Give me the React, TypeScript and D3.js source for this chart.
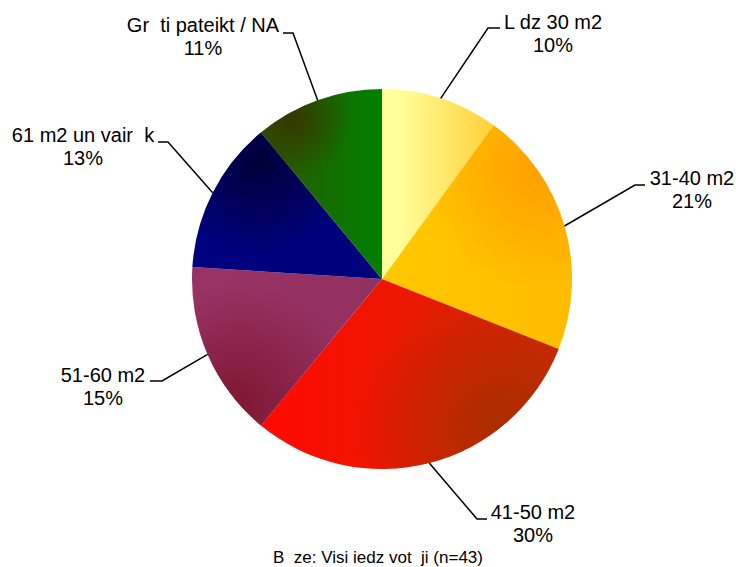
import React from "react";
import * as d3 from "d3";

const categories = ["L dz 30 m2", "31-40 m2", "41-50 m2", "51-60 m2", "61 m2 un vair  k", "Gr  ti pateikt / NA"];
const percentLabels = ["10%", "21%", "30%", "15%", "13%", "11%"];
const values = [10, 21, 30, 15, 13, 11];
const footnote = "B  ze: Visi iedz vot  ji (n=43)";

// styles: base linear gradient (x from, x to, colors) + dark spot overlay
const baseGradients = [
  { x1: 400, x2: 490, c1: "#FFFF99", c2: "#FFD23C" },
  { x1: 390, x2: 575, c1: "#FFC800", c2: "#FFBC00" },
  { x1: 270, x2: 560, c1: "#FF0A00", c2: "#D42800" },
  { x1: 195, x2: 380, c1: "#993366", c2: "#923060" },
  { x1: 195, x2: 380, c1: "#000080", c2: "#00007A" },
  { x1: 265, x2: 382, c1: "#2E5600", c2: "#008000" },
];
const spots = [
  null,
  { cx: 540, cy: 170, r: 120, c: "#FFA000" },
  { cx: 505, cy: 428, r: 150, c: "#A82E00" },
  { cx: 238, cy: 405, r: 120, c: "#7E1632" },
  { cx: 258, cy: 160, r: 95, c: "#000038" },
  { cx: 292, cy: 118, r: 60, c: "#343800" },
];

// label layout: text center x, baseline of first line, elbow point, horizontal end x
const labelLayout = [
  { tx: 553, ty: 29, ex: 488, ey: 28, hx: 500 },
  { tx: 692, ty: 185, ex: 635, ey: 185, hx: 645 },
  { tx: 533, ty: 519, ex: 477, ey: 519, hx: 487 },
  { tx: 103, ty: 382, ex: 162, ey: 381, hx: 150 },
  { tx: 83, ty: 142, ex: 168, ey: 142, hx: 158 },
  { tx: 203, ty: 32, ex: 293, ey: 33, hx: 283 },
];

const CX = 382;
const CY = 279;
const R = 190;

export default function App() {
  const pie = d3.pie<number>().sort(null).value((d) => d).startAngle(0).endAngle(2 * Math.PI);
  const arcs = pie(values);
  const arc = d3.arc<d3.PieArcDatum<number>>().innerRadius(0).outerRadius(R);
  const font = "'Liberation Sans', Arial, sans-serif";

  return (
    <svg
      width={736}
      height={567}
      style={{ position: "absolute", left: 0, top: 0, background: "#fff" }}
    >
      <defs>
        {baseGradients.map((g, i) => (
          <linearGradient
            key={"lg" + i}
            id={"lg" + i}
            gradientUnits="userSpaceOnUse"
            x1={g.x1 - CX}
            y1={0}
            x2={g.x2 - CX}
            y2={0}
          >
            <stop offset="0" stopColor={g.c1} />
            <stop offset="1" stopColor={g.c2} />
          </linearGradient>
        ))}
        {spots.map((s, i) =>
          s ? (
            <radialGradient
              key={"rg" + i}
              id={"rg" + i}
              gradientUnits="userSpaceOnUse"
              cx={s.cx - CX}
              cy={s.cy - CY}
              r={s.r}
            >
              <stop offset="0" stopColor={s.c} stopOpacity={1} />
              <stop offset="1" stopColor={s.c} stopOpacity={0} />
            </radialGradient>
          ) : null
        )}
      </defs>
      <g transform={`translate(${CX},${CY})`}>
        {arcs.map((a, i) => {
          const d = arc(a) as string;
          return (
            <g key={"slice" + i}>
              <path d={d} fill={`url(#lg${i})`} />
              {spots[i] ? <path d={d} fill={`url(#rg${i})`} /> : null}
            </g>
          );
        })}
      </g>
      {arcs.map((a, i) => {
        const mid = (a.startAngle + a.endAngle) / 2;
        const sx = CX + R * Math.sin(mid);
        const sy = CY - R * Math.cos(mid);
        const L = labelLayout[i];
        return (
          <g key={"lab" + i}>
            <polyline
              points={`${sx},${sy} ${L.ex},${L.ey} ${L.hx},${L.ey}`}
              fill="none"
              stroke="#000"
              strokeWidth={1.5}
            />
            <text
              x={L.tx}
              y={L.ty}
              textAnchor="middle"
              fontFamily={font}
              fontSize={20}
              fill="#000"
              style={{ whiteSpace: "pre" }}
            >
              {categories[i]}
            </text>
            <text
              x={L.tx}
              y={L.ty + 23}
              textAnchor="middle"
              fontFamily={font}
              fontSize={20}
              fill="#000"
            >
              {percentLabels[i]}
            </text>
          </g>
        );
      })}
      <text
        x={378}
        y={563}
        textAnchor="middle"
        fontFamily={font}
        fontSize={17}
        fill="#000"
        style={{ whiteSpace: "pre" }}
      >
        {footnote}
      </text>
    </svg>
  );
}
